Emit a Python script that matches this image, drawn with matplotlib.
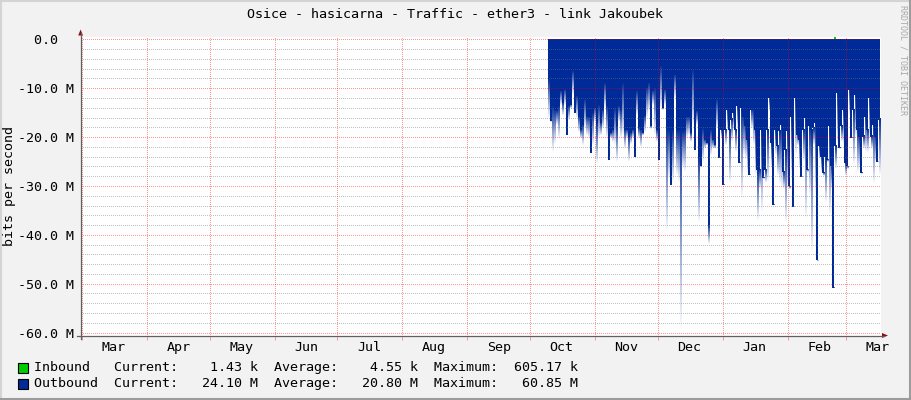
import numpy as np
import matplotlib

matplotlib.use("Agg")
import matplotlib.pyplot as plt
from matplotlib.colors import to_rgb
from matplotlib.lines import Line2D
from matplotlib.patches import Polygon, Rectangle

plt.rcParams["font.family"] = ["DejaVu Sans Mono"]

TITLE = "Osice - hasicarna - Traffic - ether3 - link Jakoubek"
Y_LABEL = "bits per second"
CREDIT = "RRDTOOL / TOBI OETIKER"

# time axis in days counted from 1 March
month_names = ["Mar", "Apr", "May", "Jun", "Jul", "Aug", "Sep",
               "Oct", "Nov", "Dec", "Jan", "Feb", "Mar"]
month_starts = [0, 31, 61, 92, 122, 153, 184, 214, 245, 275, 306, 337, 365]

y_major = [0, -10, -20, -30, -40, -50, -60]
y_major_labels = ["0.0  ", "-10.0 M", "-20.0 M", "-30.0 M", "-40.0 M", "-50.0 M", "-60.0 M"]
y_minor = [-2, -4, -6, -8, -12, -14, -16, -18, -22, -24, -26, -28, -32, -34, -36, -38,
           -42, -44, -46, -48, -52, -54, -56, -58]

# outbound traffic (Mbit/s, drawn below zero), one sample per column from ~9 Oct
out_start = 222.5
out_step = 0.955
# depth where the solid fill stops
out_body = [
    8.2, 16.8, 13.7, 14.4, 14.7, 13.7, 10.6, 13.0, 10.3, 19.5,
    13.7, 13.4, 6.5, 15.1, 11.6, 15.8, 18.5, 17.5, 12.3, 15.8,
    15.8, 23.2, 15.1, 14.0, 17.1, 13.4, 17.1, 14.4, 9.0, 13.7,
    24.7, 19.2, 18.5, 14.1, 17.8, 13.7, 14.4, 8.9, 18.5, 18.5,
    19.9, 19.2, 18.5, 24.0, 10.6, 18.2, 18.5, 19.2, 15.6, 9.9,
    8.9, 17.8, 10.6, 9.9, 18.5, 24.7, 5.5, 14.0, 10.3, 17.8,
    18.5, 29.8, 18.5, 7.2, 18.5, 18.5, 18.5, 18.8, 18.5, 15.8,
    15.8, 19.2, 6.2, 22.6, 14.7, 24.0, 26.0, 18.2, 20.5, 21.2,
    38.0, 18.5, 20.5, 21.6, 12.3, 24.3, 18.5, 29.8, 18.5, 14.4,
    18.5, 16.4, 15.1, 18.5, 13.7, 25.3,
    14.0, 15.8, 17.8, 20.5, 27.7, 14.4, 14.4, 18.5, 26.7, 26.7,
    18.5, 28.4, 26.7, 18.5, 12.0, 21.2, 33.9, 18.5, 21.9, 18.8,
    17.5, 27.1, 22.6, 18.8, 30.1, 15.8, 34.2, 12.0, 19.5, 20.5,
    28.1, 18.5, 16.1, 26.7, 17.8, 18.5, 18.2, 17.1, 45.2, 21.9,
    24.0, 27.4, 24.0, 24.7, 17.8, 26.0, 50.8, 21.9, 11.0, 22.3,
    17.8, 14.4, 25.3, 26.0, 10.3, 20.2, 14.4, 11.3, 18.5, 19.9,
    27.4, 19.9, 15.8, 18.5, 12.0, 19.9, 17.5, 19.9, 25.0, 16.4,
]
# depth of the faded peak
out_peak = [
    16.4, 17.1, 23.3, 21.6, 17.8, 20.5, 13.7, 15.8, 13.7, 19.8,
    16.8, 14.4, 11.6, 15.4, 16.4, 19.2, 20.5, 21.9, 18.5, 19.9,
    20.5, 23.5, 21.9, 17.1, 25.7, 20.5, 19.9, 18.5, 14.4, 20.5,
    25.0, 20.5, 21.2, 21.9, 25.3, 17.1, 20.5, 19.9, 22.6, 20.5,
    25.3, 21.6, 20.5, 24.3, 15.8, 20.5, 22.3, 19.9, 19.2, 16.4,
    15.1, 18.5, 13.7, 19.9, 21.2, 25.0, 14.4, 14.7, 13.7, 39.7,
    28.8, 30.1, 29.5, 12.3, 28.1, 29.5, 59.8, 26.7, 27.4, 20.5,
    19.9, 21.2, 17.8, 22.9, 17.8, 37.7, 26.3, 25.3, 22.6, 21.9,
    42.1, 24.0, 22.6, 22.6, 18.5, 24.6, 20.5, 30.1, 21.9, 19.2,
    29.5, 21.2, 18.5, 23.3, 18.5, 25.6,
    32.9, 24.0, 24.7, 27.7, 28.0, 18.5, 21.9, 28.1, 37.3, 30.8,
    35.6, 28.7, 29.5, 29.5, 15.1, 26.7, 34.2, 24.0, 28.1, 29.8,
    30.8, 30.8, 37.7, 30.8, 30.8, 28.8, 34.5, 24.0, 21.9, 26.7,
    28.4, 25.3, 37.0, 27.4, 32.2, 43.8, 21.9, 32.2, 45.5, 24.7,
    27.4, 28.1, 33.6, 25.3, 36.3, 30.8, 51.1, 26.7, 21.9, 22.6,
    21.2, 21.9, 28.1, 26.7, 15.8, 20.5, 26.0, 20.5, 27.4, 26.7,
    27.7, 22.6, 23.3, 23.3, 20.5, 22.6, 29.8, 25.3, 25.3, 28.1,
]

# inbound traffic (kbit/s), only the visible blip
inbound_days = [358.1, 359.1, 360.0]
inbound_kbps = [4.5, 605.17, 1.43]

legend_rows = [
    ("Inbound", "1.43 k", "4.55 k", "605.17 k"),
    ("Outbound", "24.10 M", "20.80 M", "60.85 M"),
]

BLUE = "#002A97"
GREEN = "#00CC00"
BG = "#F2F2F2"
AXIS = "#606060"
ARROW = "#8B1010"
FS = 9.6

W, H = 911, 400


def fx(px):
    return px / W


def fy(py):
    return 1 - py / H


fig = plt.figure(figsize=(W / 100, H / 100), dpi=100, facecolor=BG)
ax = fig.add_axes([fx(80.5), fy(335.5), 800.5 / W, (335.5 - 36.7) / H])
ax.set_facecolor("white")

# outbound: solid body plus a fade towards the peak
n = len(out_body)
edges = out_start + out_step * np.arange(n + 1)
body = np.asarray(out_body)
peak = np.asarray(out_peak)
ax.fill_between(edges, 0, -np.append(body, body[-1]), step="post",
                color=BLUE, lw=0, zorder=1)

depth = np.linspace(0, 61, 1221)
span = np.maximum(peak - body, 0.05)
alpha = np.clip((peak[None, :] - depth[:, None]) / span[None, :], 0, 1)
alpha[depth[:, None] <= body[None, :]] = 0
rgba = np.zeros((len(depth), n, 4))
rgba[..., :3] = to_rgb(BLUE)
rgba[..., 3] = alpha
ax.imshow(rgba, extent=(edges[0], edges[-1], -61, 0), origin="upper",
          aspect="auto", interpolation="nearest", zorder=1.1)

ax.bar(inbound_days, np.asarray(inbound_kbps) / 1000, width=out_step,
       align="edge", color=GREEN, lw=0, zorder=1.2)

ax.set_xlim(-0.7, 381.5)
ax.set_ylim(-60.6, 0.55)

ax.set_xticks(month_starts)
ax.set_xticklabels([])
ax.set_xticks([s + 15 for s in month_starts], minor=True)
ax.set_xticklabels(month_names, minor=True, fontsize=FS)
ax.tick_params(axis="x", which="major", length=3, width=0.72, color="#FF9494")
ax.tick_params(axis="x", which="minor", length=0, pad=4.3)

ax.set_yticks(y_major)
ax.set_yticklabels(y_major_labels, fontsize=FS)
ax.set_yticks(y_minor, minor=True)
ax.tick_params(axis="y", which="both", length=0, pad=5)

# 1px on / 1px off, phase shifted half a pixel so the dots land on whole pixels
dots = dict(linestyle=(0.5, (1, 1)), linewidth=0.72, snap=True)
ax.xaxis.grid(True, which="major", color="red", alpha=0.42, **dots)
ax.yaxis.grid(True, which="major", color="red", alpha=0.42, **dots)
ax.yaxis.grid(True, which="minor", color="#737373", alpha=0.45, **dots)
ax.set_axisbelow(False)

for side in ("top", "right", "left", "bottom"):
    ax.spines[side].set_visible(False)

# axis lines with arrows, rrdtool style
fig.add_artist(Line2D([fx(80.5), fx(80.5)], [fy(339), fy(33)], color=AXIS, lw=0.9))
fig.add_artist(Line2D([fx(77), fx(884)], [fy(335.5), fy(335.5)], color=AXIS, lw=0.9))
fig.add_artist(Polygon([(fx(78.2), fy(35.5)), (fx(83.0), fy(35.5)), (fx(80.6), fy(29.5))],
                       closed=True, color=ARROW, lw=0))
fig.add_artist(Polygon([(fx(882), fy(333)), (fx(882), fy(338)), (fx(888), fy(335.5))],
                       closed=True, color=ARROW, lw=0))

fig.text(fx(455), fy(14), TITLE, ha="center", va="center", fontsize=FS)
fig.text(fx(10), fy(186), Y_LABEL, rotation=90, ha="center", va="center", fontsize=FS)
fig.text(fx(903), fy(5), CREDIT, rotation=270, ha="center", va="top",
         fontsize=6, color="#A8A8A8")

# legend
for i, (name, cur, avg, mx) in enumerate(legend_rows):
    yc = 368 + 16 * i
    colour = GREEN if i == 0 else BLUE
    fig.add_artist(Rectangle((fx(17.5), fy(yc + 5)), 10 / W, 10 / H,
                             facecolor=colour, edgecolor="black", lw=0.8))
    line = f"{name:<10}Current:{cur:>10}  Average:{avg:>10}  Maximum:{mx:>10}"
    fig.text(fx(34), fy(yc), line, ha="left", va="center", fontsize=9.68)

# frame
fig.add_artist(Line2D([fx(0.5), fx(0.5)], [0, 1], color="#D4D4D4", lw=1.5))
fig.add_artist(Line2D([0, 1], [fy(0.5), fy(0.5)], color="#D4D4D4", lw=1.5))
fig.add_artist(Line2D([fx(909.5), fx(909.5)], [0, 1], color="#9C9C9C", lw=2.2))
fig.add_artist(Line2D([0, 1], [fy(398.5), fy(398.5)], color="#9C9C9C", lw=2.2))

fig.savefig("out.png", dpi=100, facecolor=BG)
